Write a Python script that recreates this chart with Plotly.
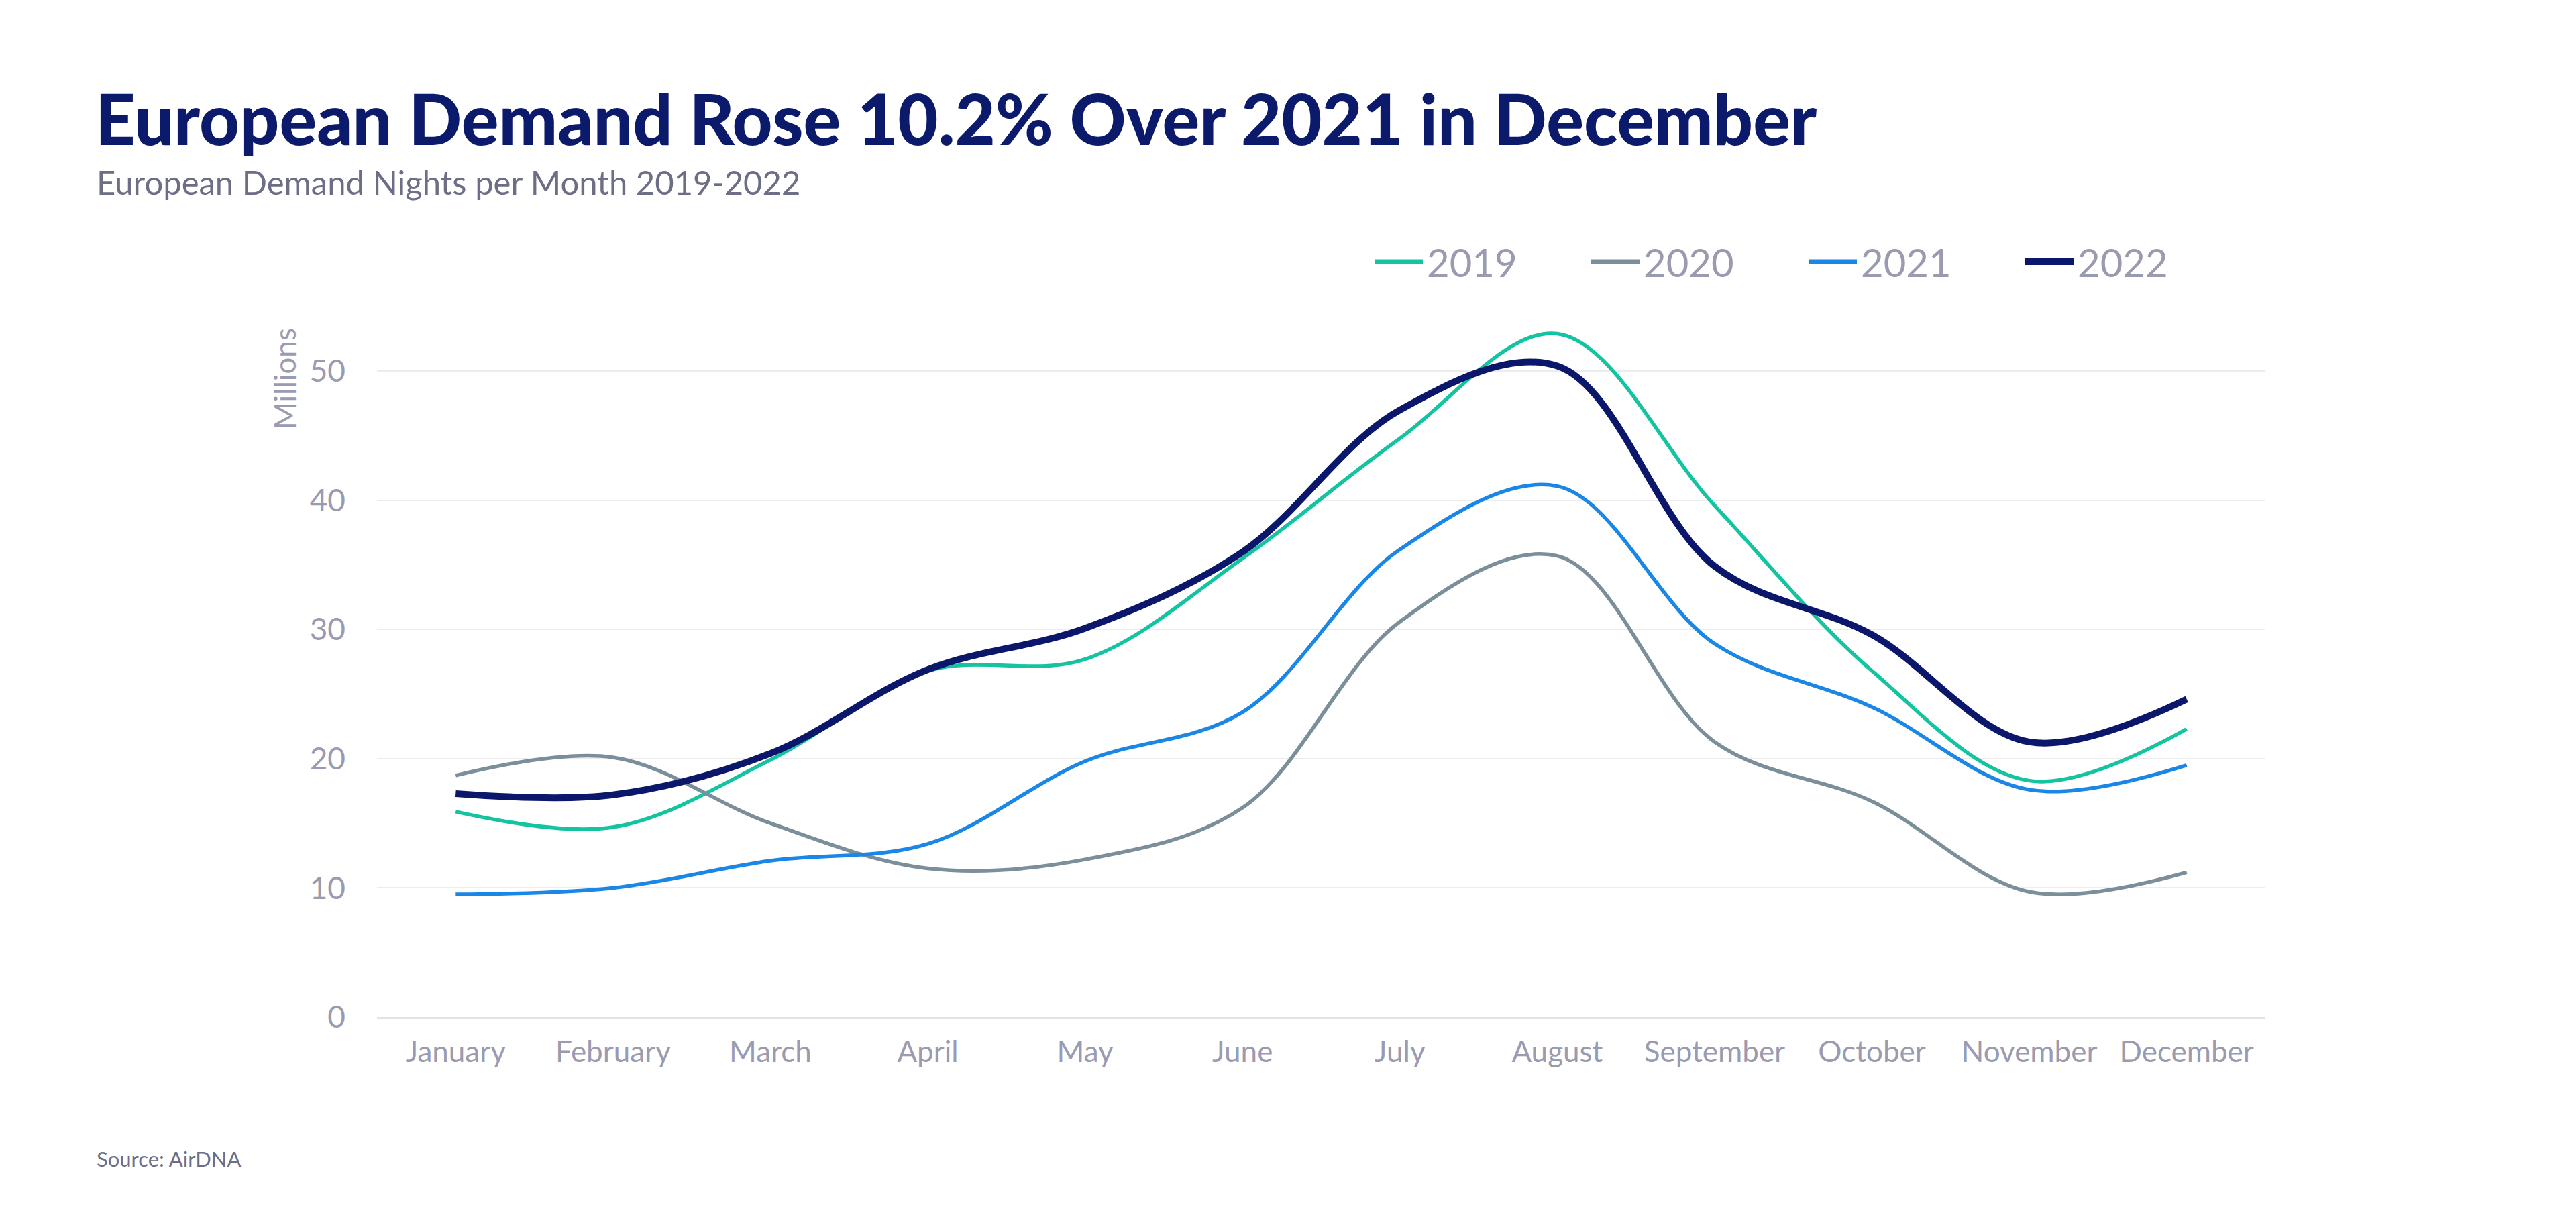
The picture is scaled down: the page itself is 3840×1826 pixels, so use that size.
import plotly.graph_objects as go

months = ["January", "February", "March", "April", "May", "June", "July",
          "August", "September", "October", "November", "December"]
y2019 = [15.9, 14.7, 19.9, 26.8, 27.7, 35.5, 44.8, 52.9, 39.6, 26.8, 18.3, 22.3]
y2020 = [18.7, 20.1, 15.0, 11.5, 12.2, 16.2, 30.6, 35.7, 21.3, 16.7, 9.7, 11.2]
y2021 = [9.5, 10.0, 12.1, 13.4, 19.8, 23.6, 36.2, 41.1, 28.9, 24.0, 17.6, 19.5]
y2022 = [17.3, 17.2, 20.4, 26.9, 30.1, 36.0, 47.0, 50.4, 34.9, 29.6, 21.3, 24.6]
y_ticks = [0, 10, 20, 30, 40, 50]

series = [
    ("2019", y2019, "#14c4a0", 5.5),
    ("2020", y2020, "#7b8f9b", 5.5),
    ("2021", y2021, "#1a87e6", 5.5),
    ("2022", y2022, "#0b176b", 10),
]

W, H = 3840, 1826
L, R, T, B = 562, 3377, 457, 1516

def px(xp):
    return (xp - L) / (R - L)

def py(yp):
    return (B - yp) / (B - T)

fig = go.Figure()
for name, vals, color, width in series:
    fig.add_trace(go.Scatter(
        x=months, y=vals, name=name, mode="lines",
        line=dict(color=color, width=width, shape="spline", smoothing=1.0),
        showlegend=False,
    ))

# custom legend (long line swatches like the reference)
legend_x0 = [2049, 2372, 2696, 3019]
shapes = []
annotations = []
for (name, vals, color, width), x0 in zip(series, legend_x0):
    shapes.append(dict(type="line", xref="paper", yref="paper",
                       x0=px(x0), x1=px(x0 + 72), y0=py(390), y1=py(390),
                       line=dict(color=color, width=7 if width < 8 else 10)))
    annotations.append(dict(text=name, xref="paper", yref="paper",
                            x=px(x0 + 76), y=py(390), xanchor="left",
                            yanchor="middle", showarrow=False,
                            font=dict(size=58, color="#9a9bb0")))

annotations += [
    dict(text="European Demand Nights per Month 2019-2022",
         xref="paper", yref="paper", x=px(142), y=py(271),
         xanchor="left", yanchor="middle", showarrow=False,
         font=dict(size=49, color="#6b6e85")),
    dict(text="Millions", xref="paper", yref="paper",
         x=px(424), y=py(565), xanchor="center", yanchor="middle",
         textangle=-90, showarrow=False,
         font=dict(size=44, color="#9a9bb0")),
    dict(text="Source: AirDNA", xref="paper", yref="paper",
         x=px(142), y=py(1727), xanchor="left", yanchor="middle",
         showarrow=False, font=dict(size=31, color="#6b6e85")),
]

fig.update_layout(
    width=W, height=H,
    margin=dict(l=L, r=W - R, t=T, b=H - B, autoexpand=False),
    paper_bgcolor="white", plot_bgcolor="white",
    font=dict(family="Lato, sans-serif", color="#9a9bb0"),
    title=dict(
        text="European Demand Rose 10.2% Over 2021 in December",
        font=dict(family="Lato, sans-serif", size=104, color="#0c1a6b", weight=900),
        xref="container", yref="container",
        x=142 / W, xanchor="left", y=1 - 180 / H, yanchor="middle",
    ),
    xaxis=dict(
        range=[-0.5, 11.5], showgrid=False, showline=True,
        linecolor="#e3e3e6", linewidth=3, ticks="",
        tickfont=dict(size=44, color="#9a9bb0"),
        ticklabelstandoff=11,
        fixedrange=True,
    ),
    yaxis=dict(
        range=[0, 55], tickvals=y_ticks, showgrid=True,
        gridcolor="#ececef", gridwidth=2, zeroline=False, showline=False,
        ticks="", ticklabelstandoff=46,
        tickfont=dict(size=46, color="#9a9bb0"),
        fixedrange=True,
    ),
    showlegend=False,
    shapes=shapes,
    annotations=annotations,
)

fig.write_html("out.html")
